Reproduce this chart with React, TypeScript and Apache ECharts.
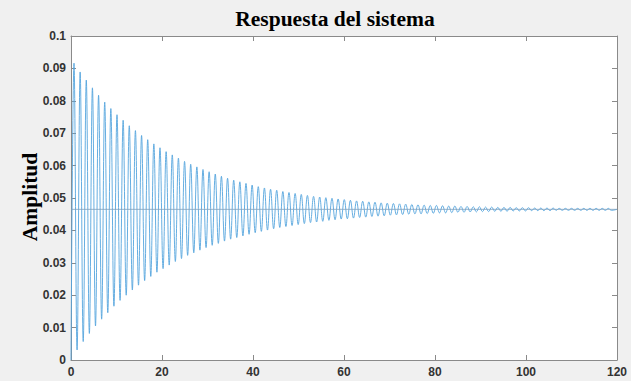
import React, { useEffect, useRef } from "react";
import * as echarts from "echarts";

const titleText = "Respuesta del sistema";
const yAxisName = "Amplitud";
const xTicks = [0, 20, 40, 60, 80, 100, 120];
const yTicks = [0, 0.01, 0.02, 0.03, 0.04, 0.05, 0.06, 0.07, 0.08, 0.09, 0.1];

const startValue = 0;
const steadyValue = 0.0465;
const endTime = 120;
const firstPeakTime = 0.66;
const period = 1.35;

// Successive maxima of the oscillation (one per cycle)
const peakValues = [
  0.0916, 0.0889, 0.0864, 0.084, 0.0817, 0.0796, 0.0776, 0.0757, 0.074, 0.0723,
  0.0708, 0.0693, 0.068, 0.0667, 0.0655, 0.0643, 0.0633, 0.0623, 0.0613, 0.0604,
  0.0596, 0.0588, 0.0581, 0.0574, 0.0567, 0.0561, 0.0555, 0.055, 0.0545, 0.054,
  0.0535, 0.0531, 0.0527, 0.0524, 0.052, 0.0517, 0.0514, 0.0511, 0.0508, 0.0505,
  0.0503, 0.0501, 0.0499, 0.0497, 0.0495, 0.0493, 0.0491, 0.049, 0.0488, 0.0487,
  0.0485, 0.0484, 0.0483, 0.0482, 0.0481, 0.048, 0.0479, 0.0478, 0.0477, 0.0477,
  0.0476, 0.0475, 0.0475, 0.0474, 0.0474, 0.0473, 0.0473, 0.0472, 0.0472, 0.0471,
  0.0471, 0.0471, 0.047, 0.047, 0.047, 0.0469, 0.0469, 0.0469, 0.0469, 0.0468,
  0.0468, 0.0468, 0.0468, 0.0468, 0.0468, 0.0468, 0.0468, 0.0468,
];

// Successive minima of the oscillation (one per cycle)
const troughValues = [
  0.0031, 0.0057, 0.0082, 0.0105, 0.0126, 0.0146, 0.0166, 0.0184, 0.02, 0.0216,
  0.0231, 0.0245, 0.0258, 0.0271, 0.0282, 0.0293, 0.0304, 0.0313, 0.0323, 0.0331,
  0.0339, 0.0347, 0.0354, 0.036, 0.0367, 0.0373, 0.0378, 0.0383, 0.0388, 0.0393,
  0.0397, 0.0401, 0.0405, 0.0409, 0.0412, 0.0415, 0.0418, 0.0421, 0.0424, 0.0426,
  0.0428, 0.0431, 0.0433, 0.0435, 0.0436, 0.0438, 0.044, 0.0441, 0.0443, 0.0444,
  0.0445, 0.0447, 0.0448, 0.0449, 0.045, 0.0451, 0.0451, 0.0452, 0.0453, 0.0454,
  0.0454, 0.0455, 0.0456, 0.0456, 0.0457, 0.0457, 0.0458, 0.0458, 0.0459, 0.0459,
  0.0459, 0.046, 0.046, 0.046, 0.0461, 0.0461, 0.0461, 0.0461, 0.0462, 0.0462,
  0.0462, 0.0462, 0.0462, 0.0462, 0.0462, 0.0462, 0.0462, 0.0462,
];

const App: React.FC = () => {
  const ref = useRef<HTMLDivElement>(null);

  useEffect(() => {
    if (!ref.current) return;
    const chart = echarts.init(ref.current, undefined, { renderer: "svg" });

    const data: number[][] = [[0, startValue]];
    peakValues.forEach((p, k) => {
      data.push([firstPeakTime + k * period, p]);
      if (k < troughValues.length) {
        data.push([firstPeakTime + period / 2 + k * period, troughValues[k]]);
      }
    });
    data.push([endTime, steadyValue]);

    const steadyLine = [
      [xTicks[0], steadyValue],
      [xTicks[xTicks.length - 1], steadyValue],
    ];

    const axisColor = "#8a8a8a";
    const labelStyle = {
      color: "#333333",
      fontFamily: "'Liberation Sans Narrow', 'Liberation Sans', Arial, sans-serif",
      fontWeight: "bold" as const,
      fontSize: 12,
    };

    const xCommon = {
      type: "value" as const,
      min: xTicks[0],
      max: xTicks[xTicks.length - 1],
      interval: xTicks[1] - xTicks[0],
      axisLine: { show: true, onZero: false, lineStyle: { color: axisColor, width: 1 } },
      axisTick: { show: true, inside: true, length: 5, lineStyle: { color: axisColor } },
      splitLine: { show: false },
    };
    const yCommon = {
      type: "value" as const,
      min: yTicks[0],
      max: yTicks[yTicks.length - 1],
      interval: 0.01,
      axisLine: { show: true, onZero: false, lineStyle: { color: axisColor, width: 1 } },
      axisTick: { show: true, inside: true, length: 5, lineStyle: { color: axisColor } },
      splitLine: { show: false },
    };

    chart.setOption({
      animation: false,
      backgroundColor: "#f0f0f0",
      grid: {
        left: 71,
        right: 14,
        top: 36,
        bottom: 21,
        show: true,
        backgroundColor: "#ffffff",
        borderWidth: 0,
      },
      graphic: [
        {
          type: "text",
          x: 335,
          y: 18.5,
          style: {
            text: titleText,
            fill: "#000000",
            font: "bold 21.5px 'Liberation Serif', 'Times New Roman', serif",
            textAlign: "center",
            textVerticalAlign: "middle",
          },
        },
        {
          type: "text",
          x: 30,
          y: 197,
          rotation: Math.PI / 2,
          style: {
            text: yAxisName,
            fill: "#000000",
            font: "bold 21.5px 'Liberation Serif', 'Times New Roman', serif",
            textAlign: "center",
            textVerticalAlign: "middle",
          },
        },
      ],
      xAxis: [
        {
          ...xCommon,
          position: "bottom",
          axisLabel: { ...labelStyle, margin: 6 },
        },
        {
          ...xCommon,
          position: "top",
          axisLabel: { show: false },
        },
      ],
      yAxis: [
        {
          ...yCommon,
          position: "left",
          axisLabel: {
            ...labelStyle,
            margin: 5,
            formatter: (v: number) => String(Math.round(v * 100) / 100),
          },
        },
        {
          ...yCommon,
          position: "right",
          axisLabel: { show: false },
        },
      ],
      series: [
        {
          type: "line",
          xAxisIndex: 0,
          yAxisIndex: 0,
          data: steadyLine,
          showSymbol: false,
          symbol: "none",
          silent: true,
          lineStyle: { color: "#7d9fbd", width: 0.8 },
          z: 3,
        },
        {
          type: "line",
          xAxisIndex: 0,
          yAxisIndex: 0,
          data,
          showSymbol: false,
          symbol: "none",
          smooth: 0.4,
          lineStyle: { color: "#55a5de", width: 0.9 },
          z: 2,
        },
      ],
    });

    return () => chart.dispose();
  }, []);

  return (
    <div
      ref={ref}
      style={{ position: "fixed", left: 0, top: 0, width: 631, height: 381 }}
    />
  );
};

export default App;
